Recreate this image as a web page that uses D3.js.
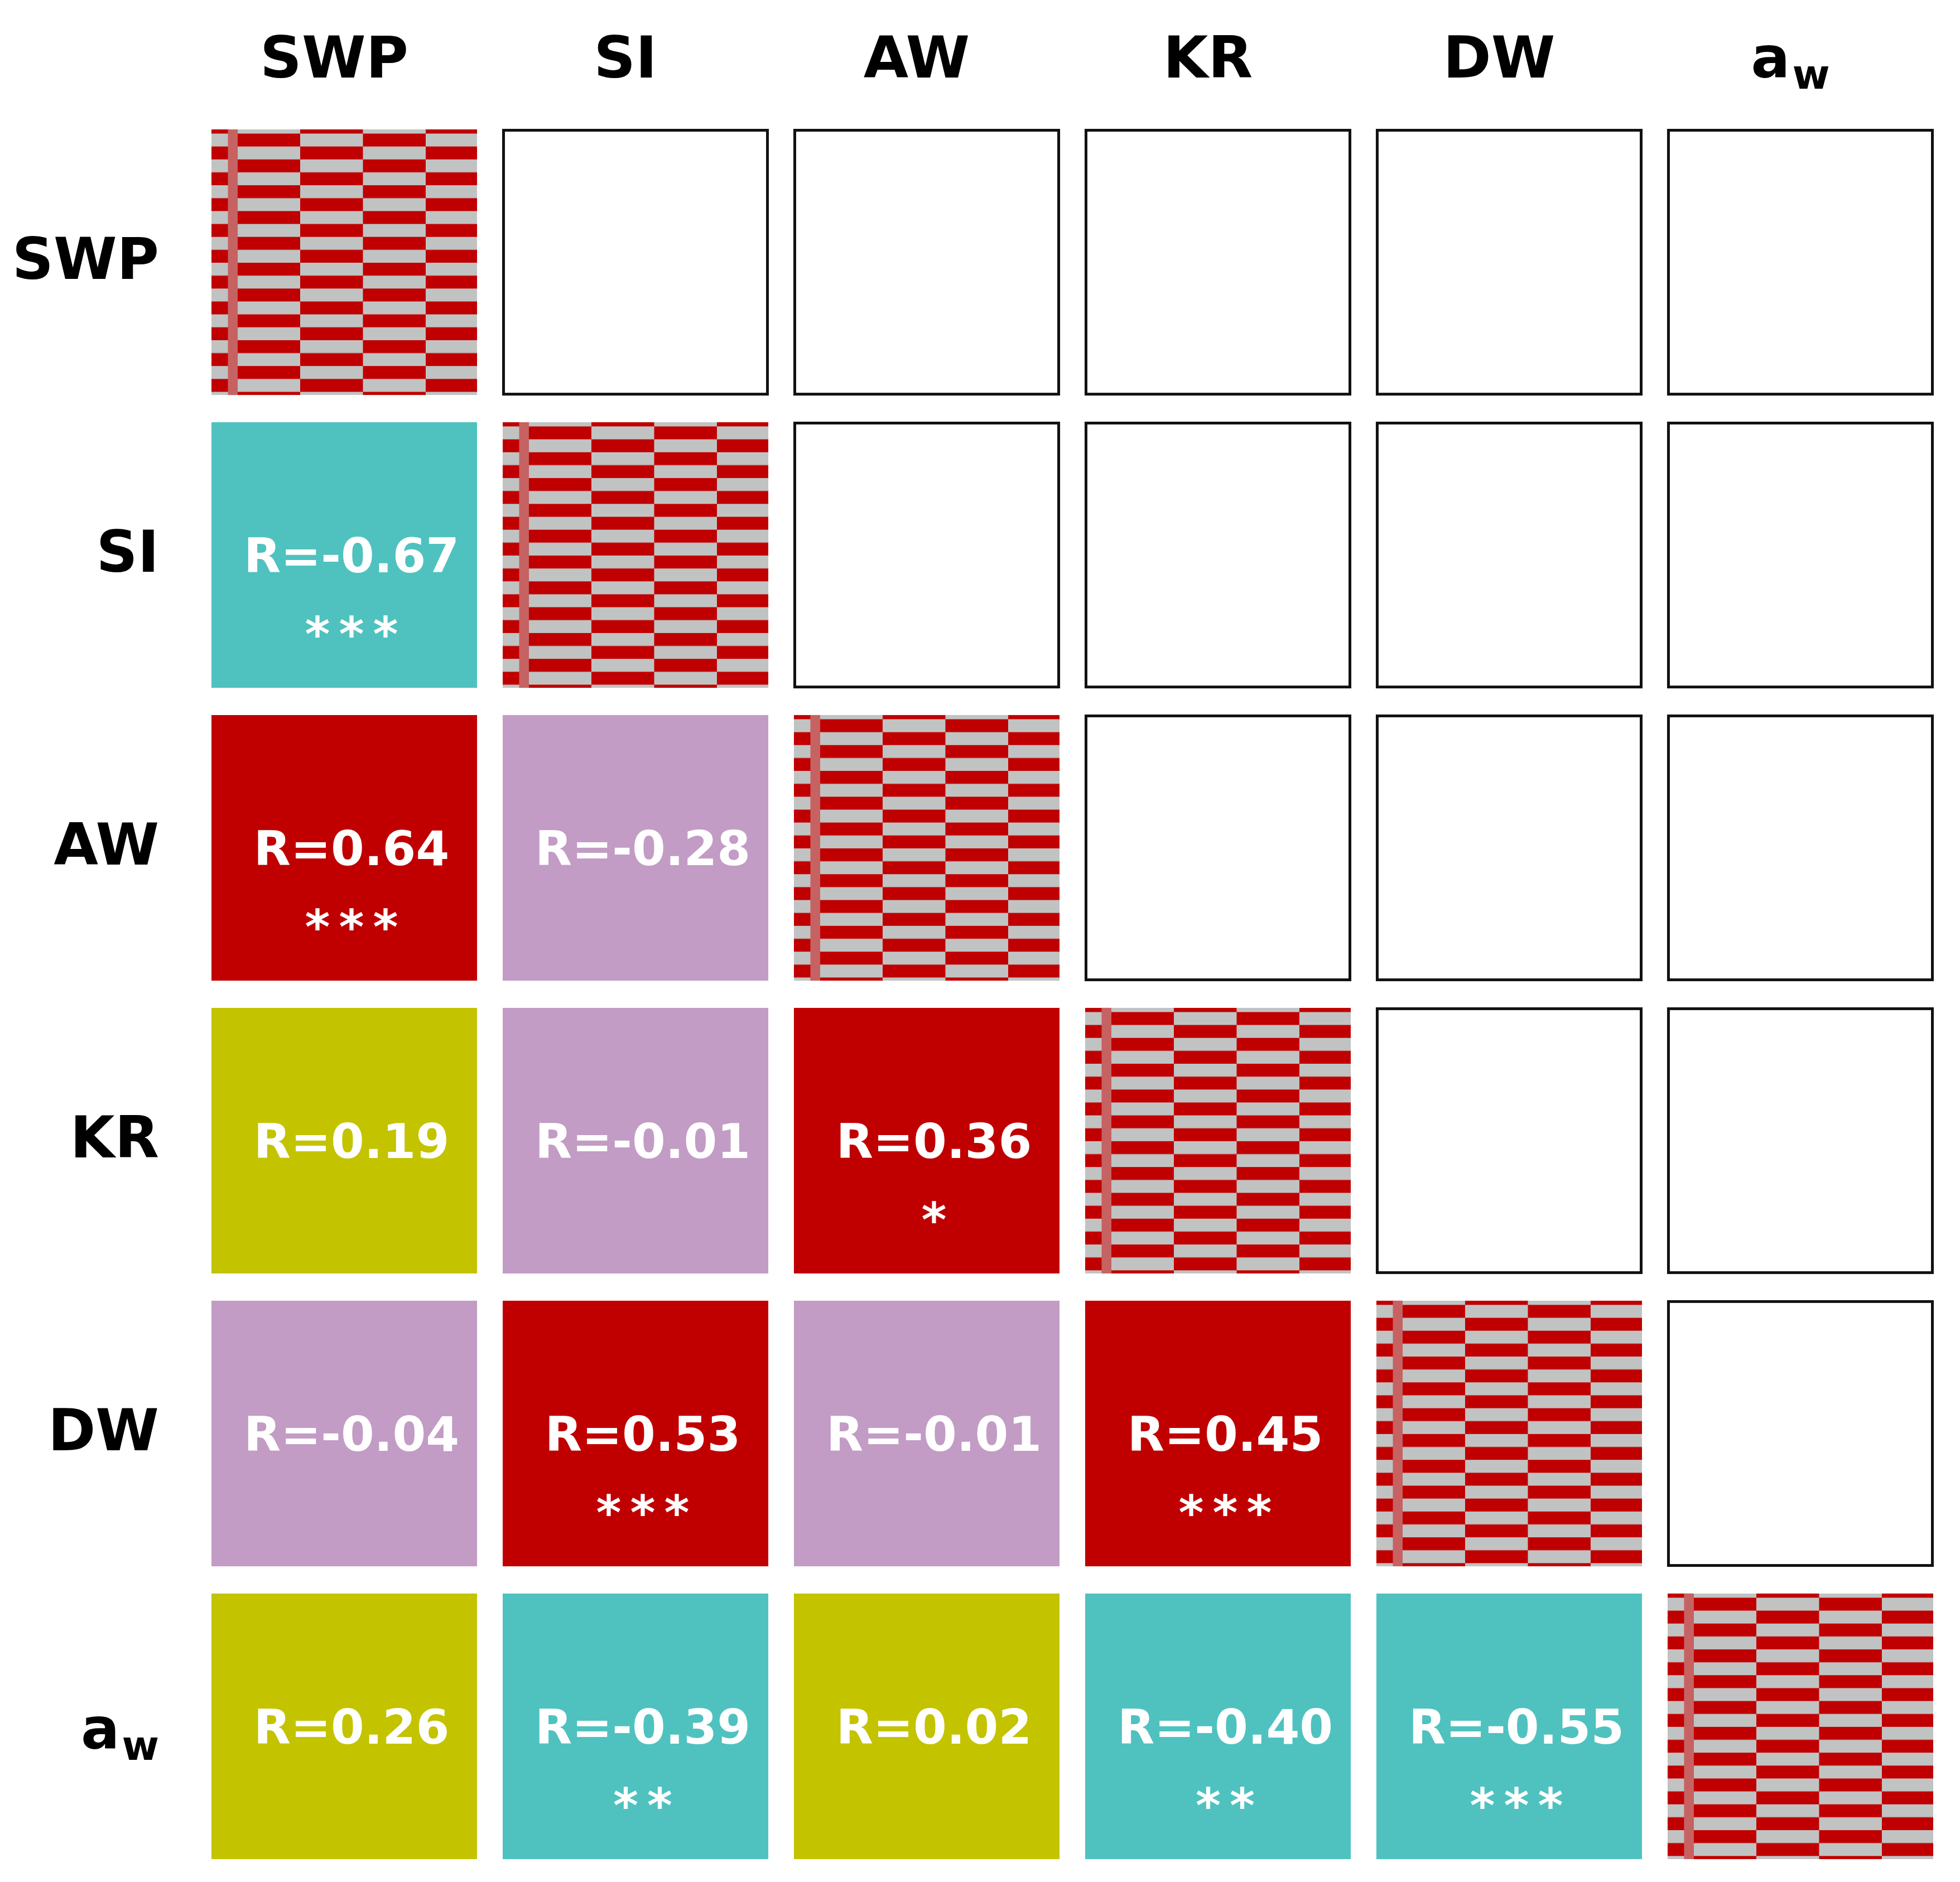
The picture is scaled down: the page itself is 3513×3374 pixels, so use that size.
<!DOCTYPE html>
<html>
<head>
<meta charset="utf-8">
<script src="https://cdn.jsdelivr.net/npm/d3@7"></script>
<style>
  body { margin: 0; background: #fff; }
  svg { display: block; font-family: "DejaVu Sans", Verdana, sans-serif; font-weight: bold; }
</style>
</head>
<body>
<svg></svg>
<script>
const variables = ["SWP", "SI", "AW", "KR", "DW", "aw"];

// lower triangle, row by row (row variable vs column variable)
const rValues = [
  [],
  [-0.67],
  [0.64, -0.28],
  [0.19, -0.01, 0.36],
  [-0.04, 0.53, -0.01, 0.45],
  [0.26, -0.39, 0.02, -0.40, -0.55]
];
const stars = [
  [],
  ["***"],
  ["***", ""],
  ["", "", "*"],
  ["", "***", "", "***"],
  ["", "**", "", "**", "***"]
];

const svg = d3.select("svg");
svg.attr("width", 3513).attr("height", 3374);

const x = d3.scaleBand().domain(variables).range([379, 3465]).paddingInner(0.088);
const y = d3.scaleBand().domain(variables).range([232, 3333]).paddingInner(0.093);

const color = d3.scaleOrdinal()
  .domain(["pos-sig", "pos-ns", "neg-sig", "neg-ns"])
  .range(["#c00000", "#c3c300", "#4fc2c0", "#c29cc5"]);

// brick pattern used on the diagonal
const defs = svg.append("defs");
const pw = 225, ph = 46.3;
const pat = defs.append("pattern")
  .attr("id", "diag")
  .attr("patternUnits", "userSpaceOnUse")
  .attr("x", 159).attr("y", 7.5)
  .attr("width", pw).attr("height", ph);
pat.append("rect").attr("width", pw).attr("height", ph).attr("fill", "#c00000");
pat.append("rect").attr("x", 0).attr("y", 0).attr("width", pw / 2).attr("height", ph / 2).attr("fill", "#c1c3c3");
pat.append("rect").attr("x", pw / 2).attr("y", ph / 2).attr("width", pw / 2).attr("height", ph / 2).attr("fill", "#c1c3c3");

const cells = [];
variables.forEach((rv, i) => {
  variables.forEach((cv, j) => {
    let type = "empty", r = null, s = "";
    if (i === j) type = "diag";
    else if (j < i) {
      r = rValues[i][j];
      s = stars[i][j];
      type = (r >= 0 ? "pos" : "neg") + (s ? "-sig" : "-ns");
    }
    cells.push({ row: rv, col: cv, type, r, s });
  });
});

const cell = svg.append("g").selectAll("g")
  .data(cells)
  .join("g")
  .attr("transform", d => `translate(${x(d.col)},${y(d.row)})`);

const bw = x.bandwidth(), bh = y.bandwidth();

cell.filter(d => d.type === "empty").append("rect")
  .attr("x", 1.5).attr("y", 1.5)
  .attr("width", bw - 3).attr("height", bh - 3)
  .attr("fill", "#fff")
  .attr("stroke", "#111")
  .attr("stroke-width", 5);

const diag = cell.filter(d => d.type === "diag");
diag.append("rect")
  .attr("width", bw).attr("height", bh)
  .attr("fill", "url(#diag)");
diag.append("rect")
  .attr("x", 29.5).attr("width", 16.5).attr("height", bh)
  .attr("fill", "#c76262");

const filled = cell.filter(d => d.r !== null);
filled.append("rect")
  .attr("width", bw).attr("height", bh)
  .attr("fill", d => color(d.type));

filled.append("text")
  .attr("x", bw / 2 + 13)
  .attr("y", bh / 2 + 31)
  .attr("text-anchor", "middle")
  .attr("fill", "#fff")
  .style("font-size", "86px")
  .text(d => "R=" + d.r.toFixed(2));

filled.filter(d => d.s).append("text")
  .attr("x", bw / 2 + 13 + 8)
  .attr("y", bh / 2 + 172)
  .attr("text-anchor", "middle")
  .attr("fill", "#fff")
  .style("font-size", "86px")
  .style("letter-spacing", "16px")
  .text(d => d.s);

// labels with subscript for water activity
function label(sel, v) {
  if (v === "aw") {
    sel.append("tspan").text("a");
    sel.append("tspan").attr("dy", 20).attr("dx", 4).style("font-size", "0.7em").text("w");
  } else {
    sel.text(v);
  }
}

svg.append("g").selectAll("text")
  .data(variables)
  .join("text")
  .attr("x", d => x(d) + bw / 2 - 18)
  .attr("y", 139)
  .attr("text-anchor", "middle")
  .style("font-size", "104px")
  .each(function (d) { label(d3.select(this), d); });

svg.append("g").selectAll("text")
  .data(variables)
  .join("text")
  .attr("x", 285)
  .attr("y", d => y(d) + bh / 2 + (d === "aw" ? 40 : 30))
  .attr("text-anchor", "end")
  .style("font-size", "103px")
  .each(function (d) { label(d3.select(this), d); });
</script>
</body>
</html>
